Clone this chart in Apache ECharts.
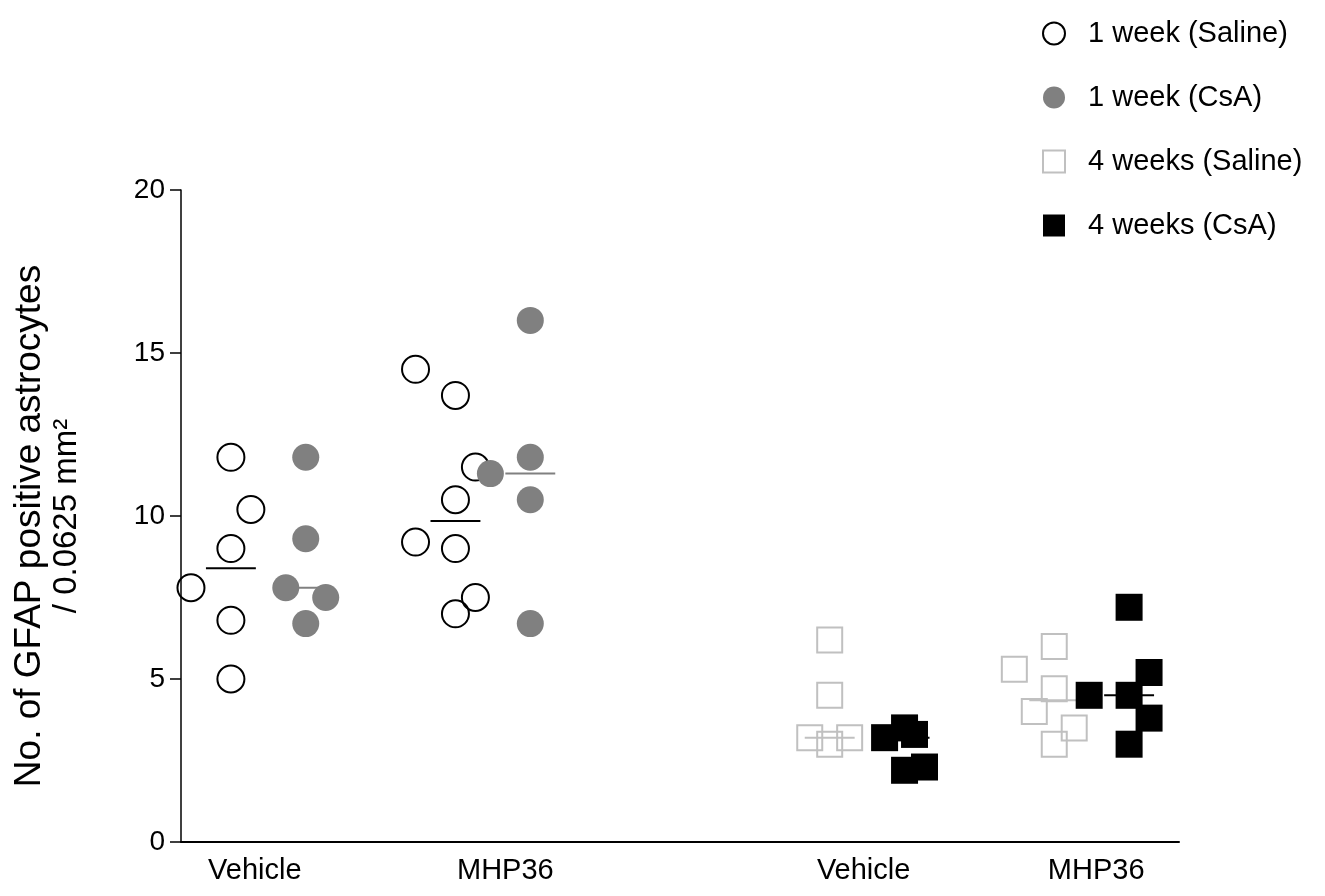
<!DOCTYPE html>
<html>
<head>
<meta charset="utf-8">
<title>GFAP positive astrocytes</title>
<script src="https://cdn.jsdelivr.net/npm/echarts@6/dist/echarts.min.js"></script>
<style>
  html, body { margin: 0; padding: 0; background: #fff; }
  #chart { width: 1325px; height: 896px; }
</style>
</head>
<body>
<div id="chart"></div>
<script>
// groups along the x axis
const groupNames = ['Vehicle', 'MHP36', 'Vehicle', 'MHP36'];
const seriesNames = ['1 week (Saline)', '1 week (CsA)', '4 weeks (Saline)', '4 weeks (CsA)'];
const yTicks = [0, 5, 10, 15, 20];

// values per group (Vehicle, MHP36)
const saline1wVehicle = [11.8, 10.2, 9.0, 7.8, 6.8, 5.0];
const saline1wMHP36 = [14.5, 13.7, 11.5, 10.5, 9.2, 9.0, 7.5, 7.0];
const csa1wVehicle = [11.8, 9.3, 7.8, 7.5, 6.7];
const csa1wMHP36 = [16.0, 11.8, 11.3, 10.5, 6.7];
const saline4wVehicle = [6.2, 4.5, 3.2, 3.2, 3.0];
const saline4wMHP36 = [6.0, 5.3, 4.7, 4.0, 3.5, 3.0];
const csa4wVehicle = [3.2, 3.5, 3.3, 2.2, 2.3];
const csa4wMHP36 = [7.2, 5.2, 4.5, 4.5, 3.8, 3.0];

// horizontal scatter (jitter) of each point, in columns
const saline1wVehicleJit = [0, 1, 0, -2, 0, 0];
const saline1wMHP36Jit = [-2, 0, 1, 0, -2, 0, 1, 0];
const csa1wVehicleJit = [0, 0, -1, 1, 0];
const csa1wMHP36Jit = [0, 0, -2, 0, 0];
const saline4wVehicleJit = [0, 0, -1, 1, 0];
const saline4wMHP36Jit = [0, -2, 0, -1, 1, 0];
const csa4wVehicleJit = [-1, 0, 0.5, 0, 1];
const csa4wMHP36Jit = [0, 1, -2, 0, 1, 0];

// layout on the hidden x scale (0..10)
const colStep = 0.2;
const halfLine = 0.25;
const labelPos = [0.74, 3.25, 6.84, 9.17];

function median(a) {
  const s = a.slice().sort((p, q) => p - q);
  const m = Math.floor(s.length / 2);
  return s.length % 2 ? s[m] : (s[m - 1] + s[m]) / 2;
}

const sets = [
  { name: seriesNames[0], parts: [[saline1wVehicle, saline1wVehicleJit, 0.5], [saline1wMHP36, saline1wMHP36Jit, 2.75]],
    symbol: 'circle', size: 27, style: { color: 'rgba(255,255,255,0)', borderColor: '#000', borderWidth: 2, opacity: 1 }, lineColor: '#000' },
  { name: seriesNames[1], parts: [[csa1wVehicle, csa1wVehicleJit, 1.25], [csa1wMHP36, csa1wMHP36Jit, 3.5]],
    symbol: 'circle', size: 27, style: { color: '#808080', opacity: 1 }, lineColor: '#808080' },
  { name: seriesNames[2], parts: [[saline4wVehicle, saline4wVehicleJit, 6.5], [saline4wMHP36, saline4wMHP36Jit, 8.75]],
    symbol: 'rect', size: 25, style: { color: 'rgba(255,255,255,0)', borderColor: '#c0c0c0', borderWidth: 2, opacity: 1 }, lineColor: '#c0c0c0' },
  { name: seriesNames[3], parts: [[csa4wVehicle, csa4wVehicleJit, 7.25], [csa4wMHP36, csa4wMHP36Jit, 9.5]],
    symbol: 'rect', size: 27, style: { color: '#000', opacity: 1 }, lineColor: '#000' }
];

const series = [];
// median lines first so the markers sit on top
sets.forEach(s => {
  s.parts.forEach(p => {
    const m = median(p[0]);
    series.push({
      type: 'line', name: 'median', silent: true, symbol: 'none', z: 1,
      data: [[p[2] - halfLine, m], [p[2] + halfLine, m]],
      lineStyle: { color: s.lineColor, width: 2 }
    });
  });
});
sets.forEach(s => {
  const pts = [];
  s.parts.forEach(p => {
    p[0].forEach((v, i) => pts.push([p[2] + p[1][i] * colStep, v]));
  });
  series.push({
    type: 'scatter', name: s.name, z: 3,
    symbol: s.symbol, symbolSize: s.size,
    itemStyle: s.style,
    emphasis: { disabled: true },
    data: pts
  });
});

const chart = echarts.init(document.getElementById('chart'));
chart.setOption({
  animation: false,
  textStyle: { fontFamily: 'Liberation Sans, Arial, sans-serif', color: '#000' },
  grid: { left: 181, right: 146, top: 190, bottom: 54, outerBoundsMode: 'none', containLabel: false },
  legend: {
    data: seriesNames,
    orient: 'vertical',
    left: 1037, top: 14,
    itemWidth: 22, itemHeight: 22, itemGap: 35,
    textStyle: { fontSize: 29, color: '#000', padding: [0, 0, 0, 18] }
  },
  xAxis: {
    type: 'value', min: 0, max: 10,
    splitLine: { show: false },
    axisLine: { show: true, lineStyle: { color: '#000', width: 2 } },
    axisTick: { show: false },
    axisLabel: {
      customValues: labelPos,
      formatter: v => groupNames[labelPos.indexOf(v)] || '',
      fontSize: 29, color: '#000', margin: 14
    }
  },
  yAxis: {
    type: 'value', min: yTicks[0], max: yTicks[yTicks.length - 1], interval: 5,
    name: '{a|No. of GFAP positive astrocytes}\n{b|/ 0.0625 mm²}',
    nameLocation: 'middle', nameGap: 96, nameRotate: 90,
    nameTextStyle: {
      color: '#000',
      rich: {
        a: { fontSize: 37, lineHeight: 38, color: '#000', padding: [0, 20, 0, 0] },
        b: { fontSize: 33, lineHeight: 36, color: '#000' }
      }
    },
    splitLine: { show: false },
    axisLine: { show: true, lineStyle: { color: '#000', width: 1.5 } },
    axisTick: { show: true, length: 11, lineStyle: { color: '#000', width: 1.5 } },
    axisLabel: { fontSize: 28, color: '#000', margin: 16 }
  },
  series: series
});
</script>
</body>
</html>
